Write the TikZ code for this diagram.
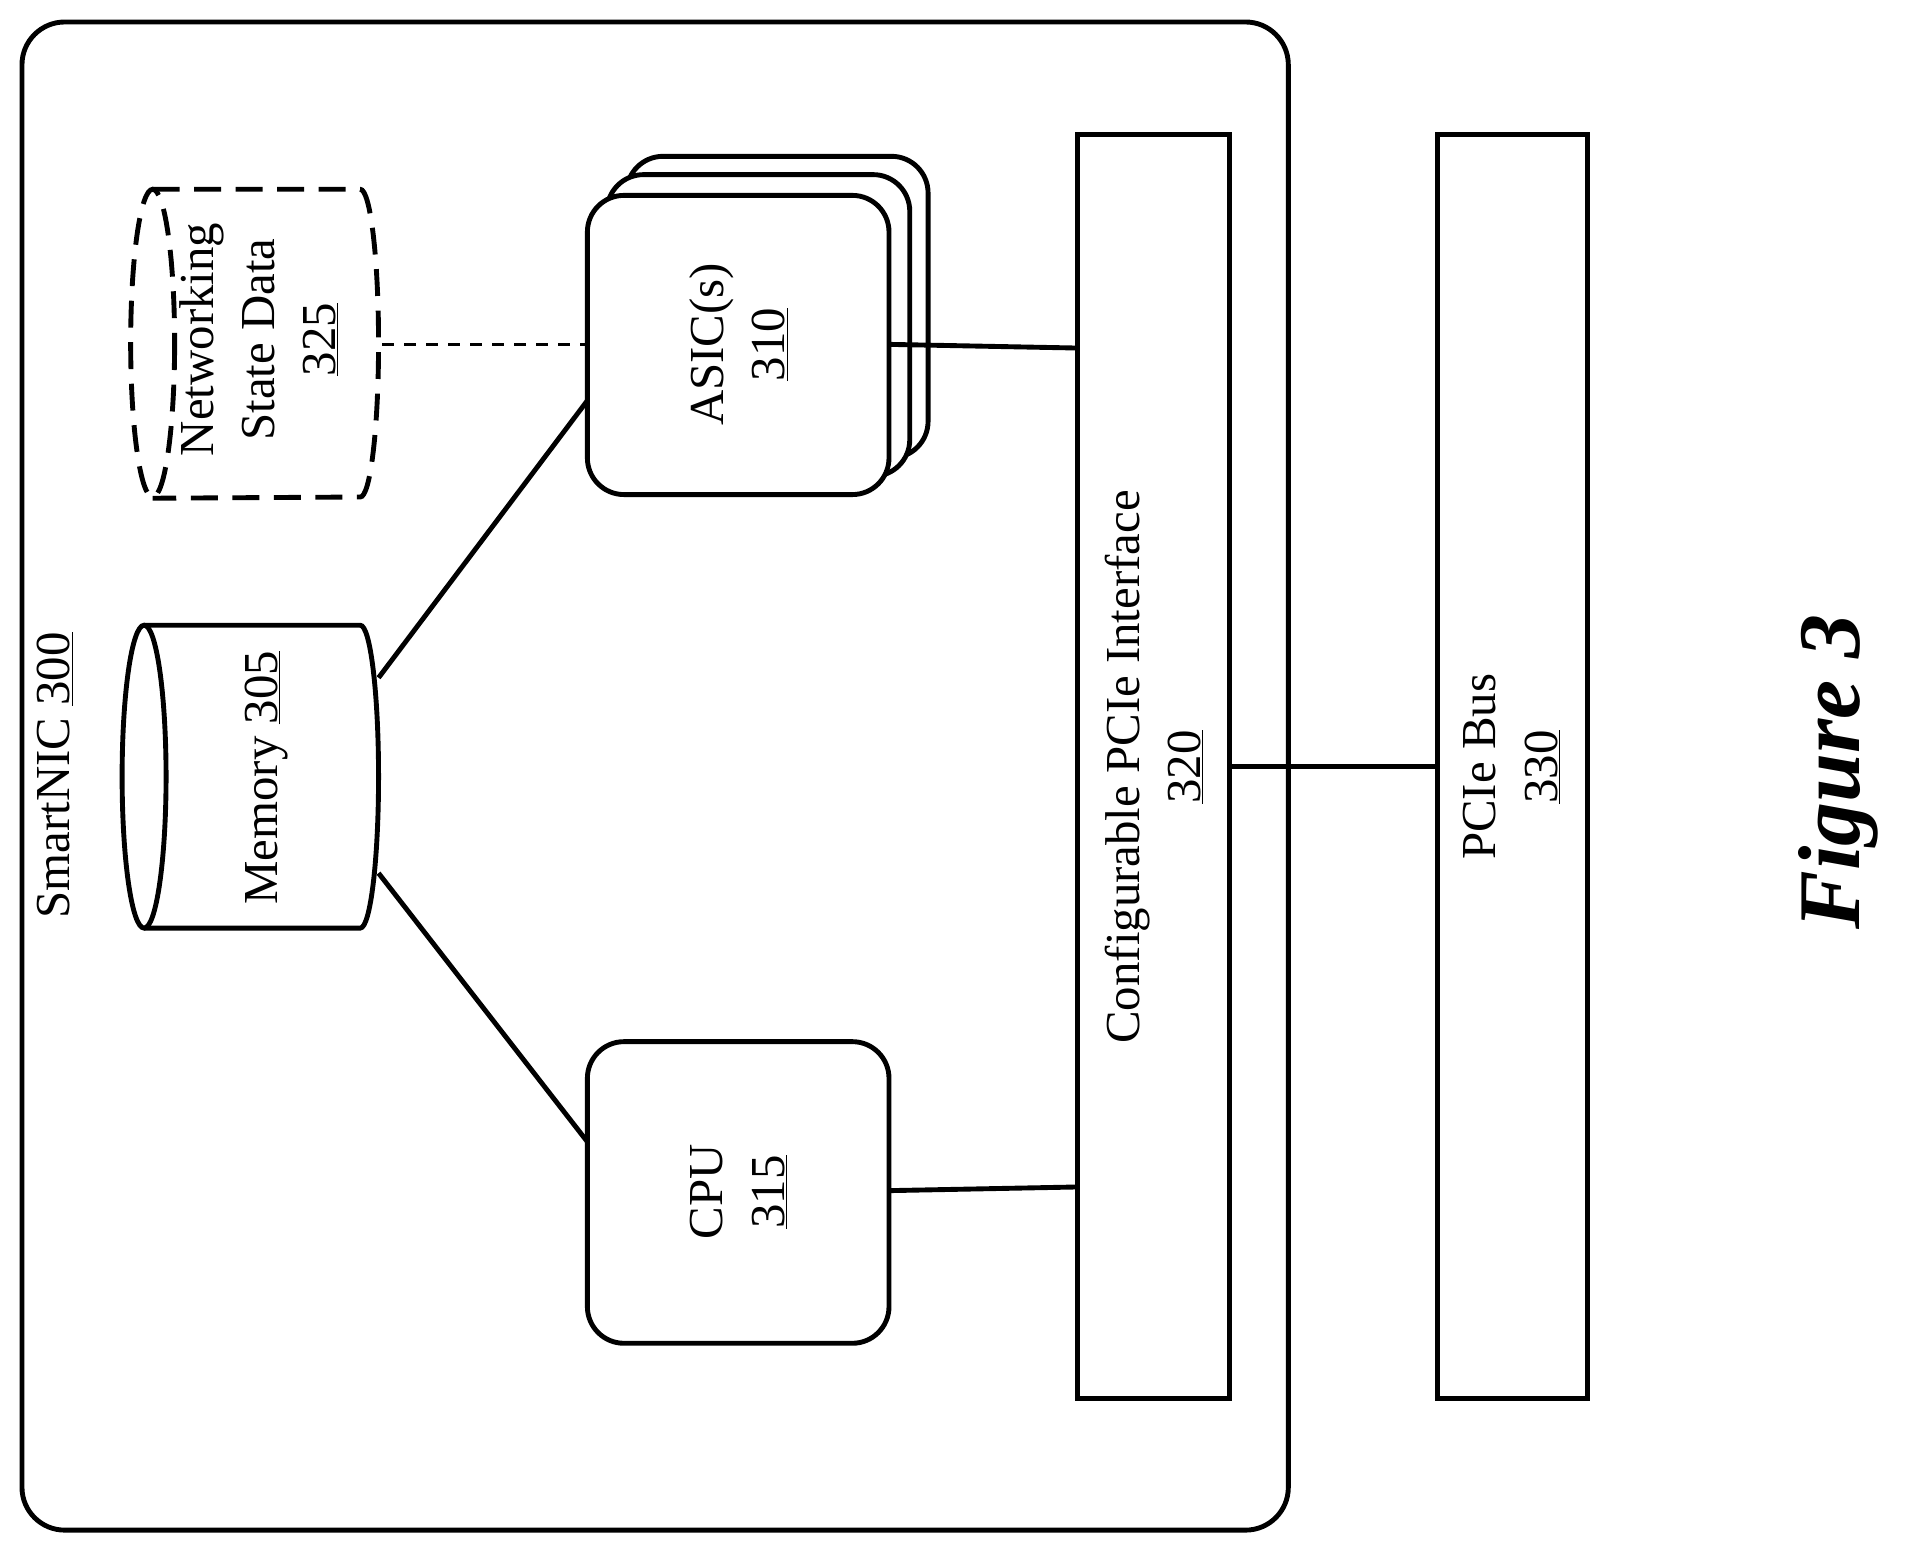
\documentclass[tikz,border=0pt]{standalone}
\usepackage{fontspec}
\setmainfont{Liberation Serif}
\begin{document}
\begin{tikzpicture}[x=1pt,y=-1pt,
  box/.style={draw,fill=white,rounded corners=30pt,line width=4pt},
  lbl/.style={rotate=90,font=\fontsize{40}{50}\selectfont,align=center,inner sep=0pt},
  ln/.style={line width=4pt}]
\useasboundingbox (0,0) rectangle (1560,1267);
\draw[line width=4pt,rounded corners=35pt] (18,18) rectangle (1055,1253);
\node[lbl] (smart) at (45,635) {SmartNIC \underline{300}};
% memory cylinder
\draw[line width=4pt] (118,512) -- (295,512) arc[start angle=-90,end angle=90,x radius=15,y radius=124] -- (118,760);
\draw[line width=4pt] (118,636) ellipse[x radius=18,y radius=124];
\coordinate (mem) at (210,636);
\node[lbl] at (218,637) {Memory \underline{305}};
% networking state data
\draw[line width=4pt,dash pattern=on 22pt off 12pt] (125,155) -- (295,155) arc[start angle=-90,end angle=90,x radius=15,y radius=126] -- (125,408);
\draw[line width=4pt,dash pattern=on 22pt off 12pt] (125,281) ellipse[x radius=18,y radius=126];
\node[lbl] (nsd) at (212,278) {Networking\\State Data\\\underline{325}};
% ASIC stack
\draw[box] (513,128) rectangle (760,375);
\draw[box] (497,143) rectangle (745,390);
\draw[box] (481,160) rectangle (728,405);
\node[lbl] (asic) at (605,282) {ASIC(s)\\\underline{310}};
% CPU
\draw[box] (481,853) rectangle (728,1100);
\node[lbl] (cpu) at (605,976) {CPU\\\underline{315}};
% PCIe interface
\draw[line width=4pt] (882,110) rectangle (1007,1145);
\node[lbl] (pif) at (945,628) {Configurable PCIe Interface\\\underline{320}};
% PCIe bus
\draw[line width=4pt] (1177,110) rectangle (1300,1145);
\node[lbl] (bus) at (1238,628) {PCIe Bus\\\underline{330}};
% connectors
\draw[ln] (310,555) -- (481,328);
\draw[ln] (310,715) -- (481,935);
\draw[dash pattern=on 10pt off 8pt,line width=2.5pt] (313,282) -- (481,282);
\draw[ln] (728,282) -- (882,285);
\draw[ln] (728,975) -- (882,972);
\draw[ln] (1007,628) -- (1177,628);
\node[rotate=90,font=\fontsize{72}{80}\selectfont\bfseries\itshape] (fig) at (1505,632) {Figure 3};
\end{tikzpicture}
\end{document}
